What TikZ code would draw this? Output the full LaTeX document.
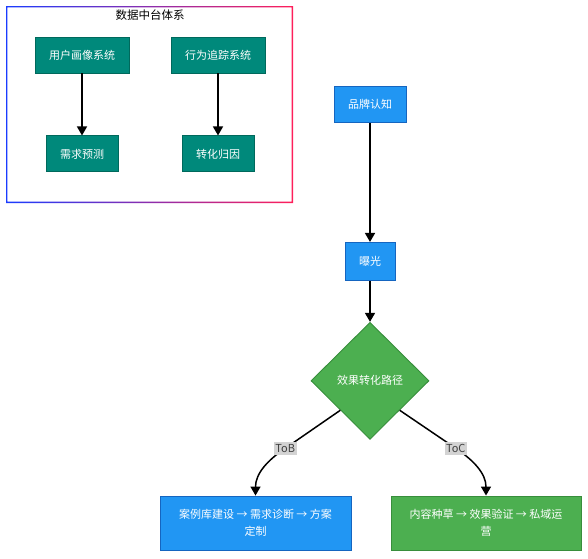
\documentclass[tikz,border=0pt]{standalone}
\usepackage{fontspec}
\setmainfont{Noto Sans CJK SC}
\usetikzlibrary{shapes.geometric, arrows.meta, positioning}

\definecolor{tealbox}{HTML}{00897B}
\definecolor{tealline}{HTML}{00695C}
\definecolor{bluebox}{HTML}{2196F3}
\definecolor{blueline}{HTML}{1565C0}
\definecolor{greenbox}{HTML}{4CAF50}
\definecolor{greenline}{HTML}{388E3C}
\definecolor{frameleft}{HTML}{1A3CFF}
\definecolor{frameright}{HTML}{FF1F5A}
\definecolor{lblgray}{HTML}{D3D3D3}

\tikzset{
  box/.style={draw, line width=0.9pt, text=white, inner xsep=14pt, inner ysep=0pt,
    minimum height=36pt, font=\fontsize{11}{17}\selectfont},
  sysbox/.style={box, draw=tealline, fill=tealbox},
  bluebx/.style={box, draw=blueline, fill=bluebox},
  greenbx/.style={box, draw=greenline, fill=greenbox},
  route/.style={diamond, draw=greenline, fill=greenbox, text=white, inner sep=0pt,
    minimum width=118pt, minimum height=117pt, line width=0.9pt, font=\fontsize{11}{14}\selectfont},
  lbl/.style={fill=lblgray, text=black!75, inner xsep=1.5pt, inner ysep=2.5pt, font=\fontsize{11}{13}\selectfont},
  flow/.style={line width=1.5pt, -{Triangle[width=10pt,length=9pt]}},
}

\begin{document}
\begin{tikzpicture}[x=1pt, y=-1pt]
  \useasboundingbox (0,0) rectangle (588,558);

  % data platform frame
  \shade[left color=frameleft, right color=frameright, even odd rule]
    (6,6) rectangle (293,203) (7.3,7.3) rectangle (291.7,201.7);
  \node (title) at (150,15) {\fontsize{11.5}{14}\selectfont 数据中台体系};

  \node [sysbox] (user) at (82,55) {用户画像系统};
  \node [sysbox] (track) at (218,55) {行为追踪系统};
  \node [sysbox, below=62pt of user] (forecast) {需求预测};
  \node [sysbox, below=62pt of track] (attrib) {转化归因};

  \draw [flow] (user) -- (forecast);
  \draw [flow] (track) -- (attrib);

  % main path
  \node [bluebx] (brand) at (370,104.5) {品牌认知};
  \node [bluebx, minimum height=38pt, below=119pt of brand] (expo) {曝光};
  \node [route, below=41pt of expo] (path) {效果转化路径};

  \node [bluebx, minimum width=191pt, minimum height=54pt, align=center] (tob) at (255.5,523)
    {案例库建设 → 需求诊断 → 方案\\定制};
  \node [greenbx, minimum width=190pt, minimum height=54pt, align=center] (toc) at (486,523)
    {内容种草 → 效果验证 → 私域运\\营};

  \draw [flow] (brand) -- (expo);
  \draw [flow] (expo) -- (path);
  \draw [flow] (path.south west) -- ++(-55,38) node [lbl] {ToB}
    to [out=-146, in=90] (tob.north);
  \draw [flow] (path.south east) -- ++(56,38) node [lbl] {ToC}
    to [out=-34, in=90] (toc.north);
\end{tikzpicture}
\end{document}
